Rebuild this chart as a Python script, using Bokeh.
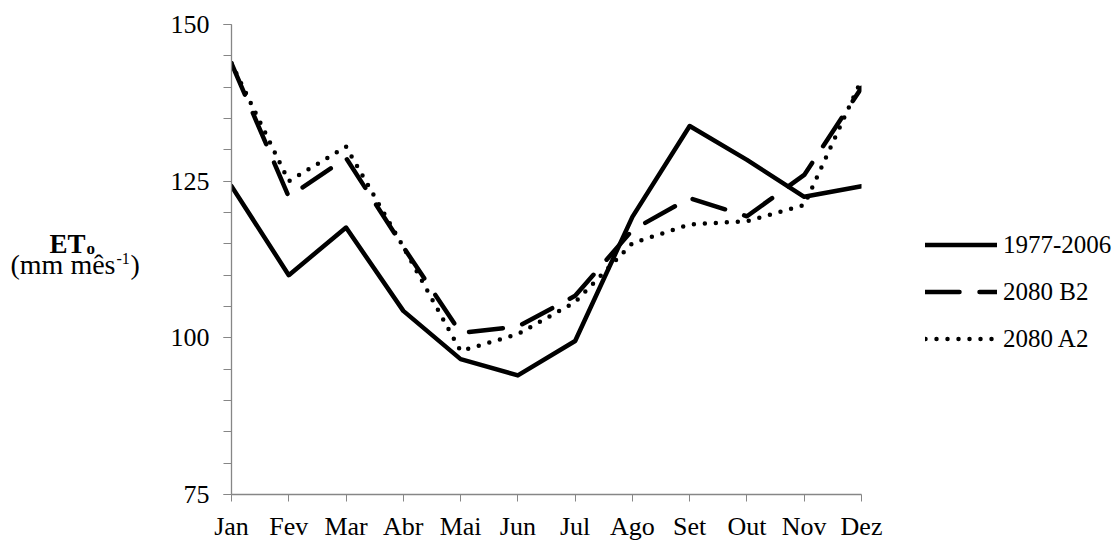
from bokeh.plotting import figure
from bokeh.models import Range1d, FixedTicker, Legend, LegendItem
from bokeh.core.properties import value
from bokeh.layouts import row
from bokeh.embed import file_html
from bokeh.resources import INLINE

months = ["Jan", "Fev", "Mar", "Abr", "Mai", "Jun", "Jul", "Ago", "Set", "Out", "Nov", "Dez"]
obs_1977_2006 = [124.2, 110.0, 117.6, 104.3, 96.6, 94.0, 99.5, 119.3, 133.8, 128.4, 122.5, 124.2]
b2_2080 = [143.8, 122.5, 128.7, 114.5, 100.8, 101.8, 106.7, 117.2, 122.3, 119.4, 126.0, 139.9]
a2_2080 = [143.8, 125.0, 130.5, 114.5, 97.9, 100.6, 105.7, 115.1, 118.1, 118.6, 121.2, 141.2]
series_names = ["1977-2006", "2080 B2", "2080 A2"]
y_ticks = [75, 100, 125, 150]

FONT = "Liberation Serif"
AX = "#868686"
TITLE_W = 167
TITLE_H = 541

x = list(range(len(months)))

p = figure(frame_width=630, frame_height=470, output_backend="svg", toolbar_location=None,
           x_range=Range1d(0, len(months) - 1), y_range=Range1d(75, 150),
           min_border_left=0, min_border_right=0, min_border_top=24, min_border_bottom=0)
p.outline_line_color = None
p.grid.grid_line_color = None
p.background_fill_color = "white"

r1 = p.line(x, obs_1977_2006, line_color="black", line_width=4.5, line_join="round", line_cap="round")
r2 = p.line(x, b2_2080, line_color="black", line_width=4.5, line_dash="34 20", line_join="round", line_cap="round")
r3 = p.line(x, a2_2080, line_color="black", line_width=4.5, line_dash="0 11", line_join="round", line_cap="round")

# axes
xa = p.xaxis[0]
xa.ticker = FixedTicker(ticks=x)
xa.major_label_overrides = {i: m for i, m in enumerate(months)}
xa.axis_line_color = AX
xa.axis_line_width = 1.3
xa.major_tick_line_color = AX
xa.major_tick_in = 0
xa.major_tick_out = 7
xa.minor_tick_line_color = None
xa.major_label_text_font = FONT
xa.major_label_text_font_size = "26px"
xa.major_label_text_color = "black"
xa.major_label_standoff = 10

ya = p.yaxis[0]
ya.ticker = FixedTicker(ticks=y_ticks, minor_ticks=list(range(75, 151, 5)))
ya.axis_line_color = AX
ya.axis_line_width = 1.3
ya.major_tick_line_color = AX
ya.minor_tick_line_color = AX
ya.major_tick_in = 0
ya.major_tick_out = 8
ya.minor_tick_in = 0
ya.minor_tick_out = 8
ya.major_label_text_font = FONT
ya.major_label_text_font_size = "26px"
ya.major_label_text_color = "black"
ya.major_label_standoff = 14

legend = Legend(items=[LegendItem(label=series_names[0], renderers=[r1]),
                       LegendItem(label=series_names[1], renderers=[r2]),
                       LegendItem(label=series_names[2], renderers=[r3])],
                location=(64, 132), orientation="vertical",
                glyph_width=72, glyph_height=47, label_height=47, spacing=0,
                label_standoff=6, padding=0, margin=0,
                label_text_font=FONT, label_text_font_size="25px", label_text_color="black",
                background_fill_alpha=0, border_line_color=None)
p.add_layout(legend, "right")

# y-axis title panel (its own small svg figure, pixel coordinates, y pointing down)
t = figure(width=TITLE_W, height=TITLE_H, output_backend="svg", toolbar_location=None,
           x_range=Range1d(0, TITLE_W), y_range=Range1d(TITLE_H, 0),
           min_border=0, min_border_left=0, min_border_right=0, min_border_top=0, min_border_bottom=0)
t.axis.visible = False
t.grid.grid_line_color = None
t.outline_line_color = None

def piece(xp, yp, txt, size, bold=False):
    t.text(x=[xp], y=[yp], text=[txt], text_font=value(FONT), text_font_size=size,
           text_font_style="bold" if bold else "normal", text_color="black",
           text_align="left", text_baseline="alphabetic")

piece(49, 254, "ET", "27px", bold=True)
piece(86, 259, "o", "17px", bold=True)
piece(10, 278, "(mm mês", "28px")
piece(116, 270, "-1", "16px")
piece(130, 278, ")", "28px")

layout = row(t, p, spacing=0)
open("out.html", "w").write(file_html(layout, INLINE))
